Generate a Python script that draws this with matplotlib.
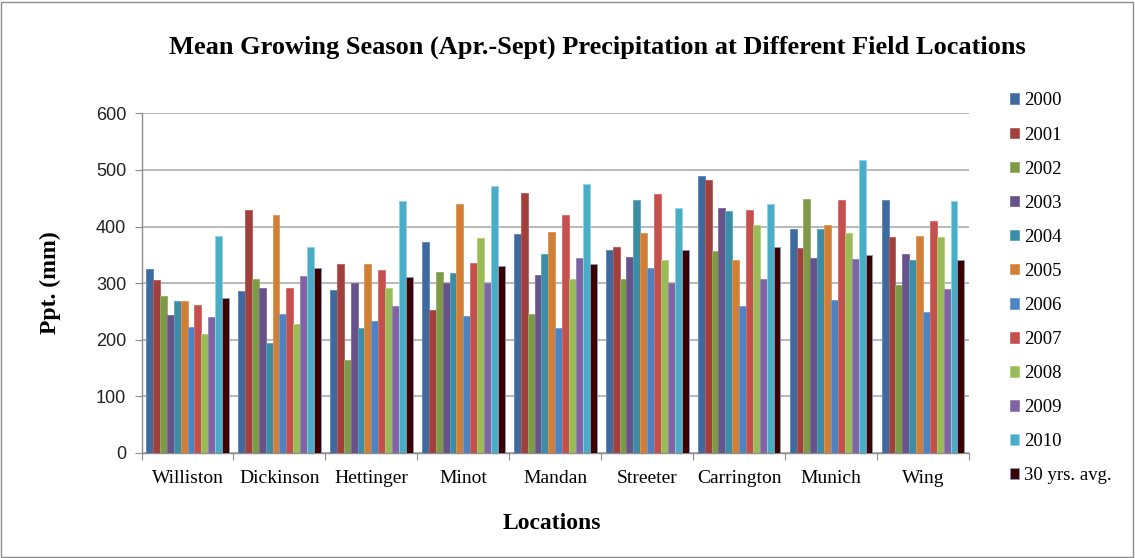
import matplotlib
matplotlib.use("Agg")
import matplotlib.pyplot as plt
from matplotlib.patches import Rectangle, Patch
import numpy as np

locations = ["Williston", "Dickinson", "Hettinger", "Minot", "Mandan",
             "Streeter", "Carrington", "Munich", "Wing"]
series_names = ["2000", "2001", "2002", "2003", "2004", "2005", "2006",
                "2007", "2008", "2009", "2010", "30 yrs. avg."]

# Growing season precipitation (mm), one list per year, in location order
ppt_2000 = [325, 286, 287, 372, 386, 359, 490, 395, 447]
ppt_2001 = [305, 429, 333, 253, 460, 364, 482, 362, 382]
ppt_2002 = [277, 307, 165, 320, 246, 307, 357, 449, 296]
ppt_2003 = [244, 292, 300, 300, 314, 347, 432, 344, 351]
ppt_2004 = [268, 194, 220, 318, 351, 447, 427, 396, 340]
ppt_2005 = [268, 420, 333, 440, 390, 388, 340, 403, 384]
ppt_2006 = [223, 246, 233, 242, 220, 327, 259, 270, 249]
ppt_2007 = [261, 292, 324, 335, 420, 457, 429, 447, 409]
ppt_2008 = [210, 227, 292, 379, 307, 340, 403, 388, 382]
ppt_2009 = [240, 312, 259, 300, 344, 300, 307, 342, 290]
ppt_2010 = [383, 364, 445, 472, 475, 433, 440, 518, 445]
ppt_avg30 = [274, 326, 310, 331, 333, 359, 363, 350, 340]

y_ticks = [0, 100, 200, 300, 400, 500, 600]

series = [ppt_2000, ppt_2001, ppt_2002, ppt_2003, ppt_2004, ppt_2005,
          ppt_2006, ppt_2007, ppt_2008, ppt_2009, ppt_2010, ppt_avg30]
colors = ["#3E6A9F", "#A23F3D", "#7E9A48", "#67528A", "#3A8DA5", "#D17E36",
          "#4F82C0", "#C3504D", "#9BBB59", "#8064A2", "#4BACC6", "#3F0000"]
edges = ["#5a86bb", "#b85a58", "#94b060", "#7d68a0", "#55a6be", "#e09550",
         "#6b9bd5", "#d76a67", "#b0cf70", "#9880b8", "#8fd4ea", "#7a9cc8"]

fig = plt.figure(figsize=(11.35, 5.58), dpi=100)
ax = fig.add_axes([0.1247, 0.1882, 0.729, 0.6088])

n = len(series)
group_w = 0.9
bw = group_w / n
x = np.arange(len(locations))
for k, (vals, c, e) in enumerate(zip(series, colors, edges)):
    off = -group_w / 2 + bw * (k + 0.5)
    ax.bar(x + off, vals, width=bw, color=c, edgecolor=e, linewidth=0.6,
           zorder=3)

ax.set_xlim(-0.5, len(locations) - 0.5)
ax.set_ylim(0, 600)
ax.set_yticks(y_ticks)
ax.set_yticklabels([str(v) for v in y_ticks], fontsize=13,
                   family="Liberation Sans", color="#222222")
ax.yaxis.grid(True, color="#A6A6A6", linewidth=1.1, zorder=0)
ax.tick_params(axis="y", length=5, color="#8C8C8C", pad=6)

ax.set_xticks(np.arange(-0.5, len(locations), 1.0))
ax.set_xticklabels([])
ax.set_xticks(x, minor=True)
ax.set_xticklabels(locations, minor=True, fontsize=14,
                   family="Liberation Serif")
ax.tick_params(axis="x", which="major", length=5, color="#8C8C8C")
ax.tick_params(axis="x", which="minor", length=0, pad=12.5)

for s in ["top", "right"]:
    ax.spines[s].set_visible(False)
for s in ["left", "bottom"]:
    ax.spines[s].set_color("#8C8C8C")
    ax.spines[s].set_linewidth(1.0)

fig.text(0.526, 0.916,
         "Mean Growing Season (Apr.-Sept) Precipitation at Different Field Locations",
         ha="center", va="center", fontsize=19, fontweight="bold",
         family="Liberation Serif")
fig.text(0.486, 0.062, "Locations", ha="center", va="center", fontsize=17,
         fontweight="bold", family="Liberation Serif")
fig.text(0.044, 0.493, "Ppt. (mm)", ha="center", va="center", fontsize=17,
         fontweight="bold", family="Liberation Serif", rotation=90)

handles = [Patch(facecolor=c, edgecolor=e, linewidth=0.6)
           for c, e in zip(colors, edges)]
leg = fig.legend(handles, series_names, loc="upper left",
                 bbox_to_anchor=(0.883, 0.8477), frameon=False,
                 prop={"family": "Liberation Serif", "size": 13.5},
                 handlelength=0.5, handleheight=0.5, handletextpad=0.25,
                 labelspacing=0.91, borderaxespad=0)

fig.patches.append(Rectangle((0.001, 0.002), 0.997, 0.995,
                             transform=fig.transFigure, fill=False,
                             edgecolor="#8C8C8C", linewidth=1.0))

fig.savefig("out.png", dpi=100)
